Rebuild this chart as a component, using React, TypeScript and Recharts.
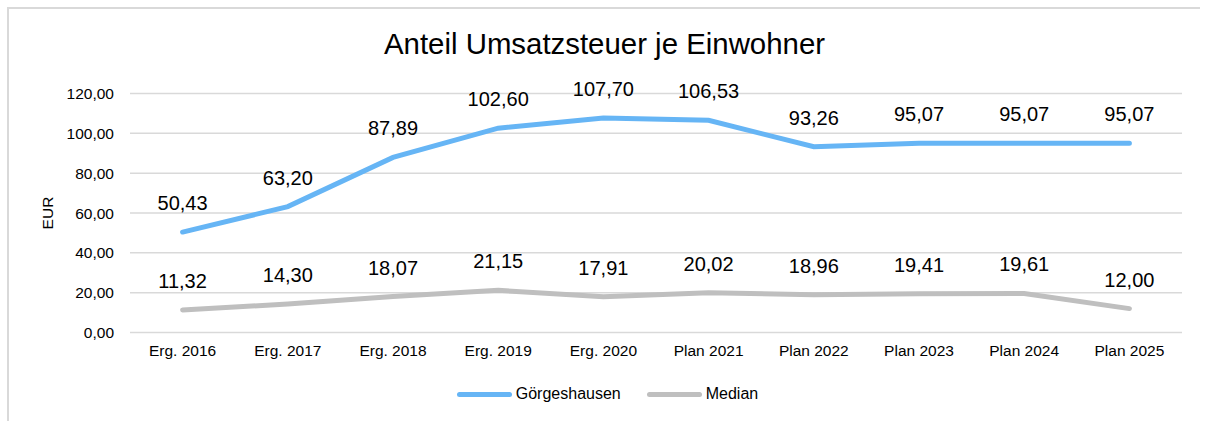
import React from "react";
import { LineChart, Line, XAxis, YAxis, CartesianGrid, LabelList, Legend } from "recharts";

const categories = ["Erg. 2016", "Erg. 2017", "Erg. 2018", "Erg. 2019", "Erg. 2020", "Plan 2021", "Plan 2022", "Plan 2023", "Plan 2024", "Plan 2025"];
const goergeshausen = [50.43, 63.2, 87.89, 102.6, 107.7, 106.53, 93.26, 95.07, 95.07, 95.07];
const median = [11.32, 14.3, 18.07, 21.15, 17.91, 20.02, 18.96, 19.41, 19.61, 12.0];
const yTicks = [0, 20, 40, 60, 80, 100, 120];

const data = categories.map((c, i) => ({ name: c, g: goergeshausen[i], m: median[i] }));

const fmt = (v: any) => Number(v).toFixed(2).replace(".", ",");
const FONT = "'Liberation Sans', Arial, sans-serif";

const renderLegend = () => (
  <div style={{ display: "flex", justifyContent: "center", alignItems: "center", fontFamily: FONT, fontSize: 16, color: "#000", height: 20, paddingLeft: 6 }}>
    <span style={{ display: "inline-block", width: 55, height: 5, borderRadius: 3, background: "#66b5f5", marginRight: 4 }} />
    <span style={{ marginRight: 26 }}>Görgeshausen</span>
    <span style={{ display: "inline-block", width: 55, height: 5, borderRadius: 3, background: "#bfbfbf", marginRight: 4 }} />
    <span>Median</span>
  </div>
);

export default function App() {
  return (
    <div style={{ position: "absolute", left: 0, top: 0, width: 1209, height: 421, background: "#fff" }}>
      <div style={{ position: "absolute", left: 7, top: 7, width: 1193, height: 414, borderLeft: "2px solid #d9d9d9", borderTop: "2px solid #d9d9d9", boxSizing: "border-box" }} />
      <div style={{ position: "absolute", left: 0, top: 27, width: 1209, textAlign: "center", fontFamily: FONT, fontSize: 29.4, color: "#000" }}>
        Anteil Umsatzsteuer je Einwohner
      </div>
      <div style={{ position: "absolute", left: 0, top: 0 }}>
        <LineChart width={1209} height={421} data={data} margin={{ top: 93.5, right: 27, bottom: 0, left: 0 }}>
          <CartesianGrid vertical={false} stroke="#d9d9d9" strokeWidth={1.5} />
          <XAxis
            dataKey="name"
            axisLine={false}
            tickLine={false}
            height={68.5}
            padding={{ left: 52.6, right: 52.6 }}
            tick={{ fill: "#000", fontSize: 15.5, fontFamily: FONT }}
            tickMargin={6}
            interval={0}
          />
          <YAxis
            domain={[0, 120]}
            ticks={yTicks}
            width={130}
            axisLine={false}
            tickLine={false}
            tickMargin={10}
            tickFormatter={fmt}
            tick={{ fill: "#000", fontSize: 15.5, fontFamily: FONT }}
            label={{ value: "EUR", angle: -90, position: "insideLeft", offset: 47, style: { fill: "#000", fontSize: 15.5, fontFamily: FONT, textAnchor: "middle" } }}
          />
          <Legend content={renderLegend} wrapperStyle={{ position: "absolute", top: 384, left: 0, width: 1209, height: 20 }} />
          <Line dataKey="g" name="Görgeshausen" stroke="#66b5f5" strokeWidth={5} dot={false} strokeLinecap="round" isAnimationActive={false}>
            <LabelList dataKey="g" position="top" offset={22} formatter={fmt} style={{ fill: "#000", fontSize: 20, fontFamily: FONT }} />
          </Line>
          <Line dataKey="m" name="Median" stroke="#bfbfbf" strokeWidth={5} dot={false} strokeLinecap="round" isAnimationActive={false}>
            <LabelList dataKey="m" position="top" offset={22} formatter={fmt} style={{ fill: "#000", fontSize: 20, fontFamily: FONT }} />
          </Line>
        </LineChart>
      </div>
    </div>
  );
}
